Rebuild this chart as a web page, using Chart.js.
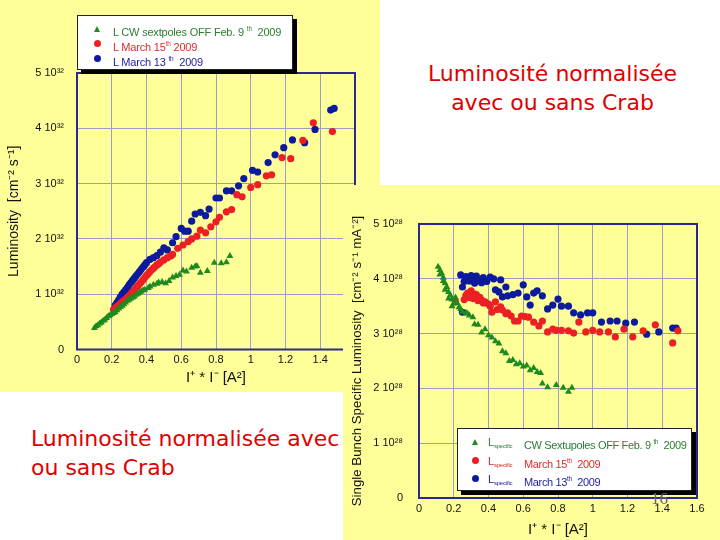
<!DOCTYPE html>
<html><head><meta charset="utf-8">
<script src="https://cdn.jsdelivr.net/npm/chart.js@4.4.1/dist/chart.umd.min.js"></script>
<style>
html,body{margin:0;padding:0;width:720px;height:540px;overflow:hidden;background:#fff;}
#leftPanel{position:absolute;left:0;top:0;width:380px;height:392px;background:#ffff99;z-index:1}
#rightPanel{position:absolute;left:343px;top:185px;width:377px;height:355px;background:#ffff99;z-index:2}
canvas{position:absolute;left:0;top:0}
.note{position:absolute;color:#e00000;font-family:"DejaVu Sans",sans-serif;font-size:22px;line-height:29px;z-index:3;white-space:nowrap}
.legend{position:absolute;background:#fff;border:1px solid #222;box-shadow:4px 4px 0 #000;font-family:"Liberation Sans",Arial,sans-serif;z-index:4}
.row{position:absolute;white-space:nowrap;line-height:14px;height:14px}
.dot{position:absolute;width:7px;height:7px;border-radius:50%}
.tri{position:absolute;width:0;height:0;border-left:3.5px solid transparent;border-right:3.5px solid transparent;border-bottom:6px solid #1f8a1f}
.txt{position:absolute;font-size:11px;letter-spacing:-0.2px}
.txt sup{font-size:6.5px;vertical-align:5px}
.txt sub{font-size:6px;vertical-align:-2px}
.rt{font-size:11px !important;letter-spacing:-0.35px !important}
#pg{position:absolute;left:651px;top:489px;font-family:"Liberation Serif",serif;font-size:17px;color:#666;z-index:5}
</style></head>
<body>
<div id="leftPanel"><canvas id="cL" width="380" height="392"></canvas>
  <div class="legend" style="left:77px;top:15px;width:214px;height:53px;">
    <div class="row" style="top:6px;left:0"><div class="tri" style="left:16px;top:4px"></div><div class="txt" style="left:35px;color:#2b7d33">L CW sextpoles OFF Feb. 9 <sup>th</sup>&nbsp; 2009</div></div>
    <div class="row" style="top:21px;left:0"><div class="dot" style="left:16px;top:3px;background:#ec2024"></div><div class="txt" style="left:35px;color:#e02a2a">L March 15<sup>th</sup> 2009</div></div>
    <div class="row" style="top:36px;left:0"><div class="dot" style="left:16px;top:3px;background:#0c1a9e"></div><div class="txt" style="left:35px;color:#1c1c9c">L March 13 <sup>th</sup>&nbsp; 2009</div></div>
  </div>
</div>
<div id="rightPanel"><canvas id="cR" width="377" height="355"></canvas>
  <div class="legend" style="left:114px;top:243px;width:233px;height:61px;">
    <div class="row" style="top:6px;left:0"><div class="tri" style="left:14px;top:4px"></div><div class="txt" style="left:30px;color:#2b7d33">L<sub>specific</sub></div><div class="txt rt" style="left:66px;color:#2b7d33">CW Sextupoles OFF Feb. 9 <sup>th</sup>&nbsp; 2009</div></div>
    <div class="row" style="top:25px;left:0"><div class="dot" style="left:14px;top:3px;background:#ec2024"></div><div class="txt" style="left:30px;color:#e02a2a">L<sub>specific</sub></div><div class="txt rt" style="left:66px;color:#e02a2a">March 15<sup>th</sup>&nbsp; 2009</div></div>
    <div class="row" style="top:43px;left:0"><div class="dot" style="left:14px;top:3px;background:#0c1a9e"></div><div class="txt" style="left:30px;color:#1c1c9c">L<sub>specific</sub></div><div class="txt rt" style="left:66px;color:#1c1c9c">March 13<sup>th</sup>&nbsp; 2009</div></div>
  </div>
</div>
<div class="note" style="left:380px;top:59px;width:345px;text-align:center">Luminosité normalisée<br>avec ou sans Crab</div>
<div class="note" style="left:31px;top:424px">Luminosité normalisée avec<br>ou sans Crab</div>
<div id="pg">16</div>
<script>
// ---------- data ----------
const seriesLabels = ['L CW sextpoles OFF Feb. 9th 2009', 'L March 15th 2009', 'L March 13th 2009'];
const xTickValues = [0,0.2,0.4,0.6,0.8,1,1.2,1.4,1.6];
const xTickLabels = ['0','0.2','0.4','0.6','0.8','1','1.2','1.4','1.6'];
const yTickValues = [0,1,2,3,4,5];
const leftYTickLabels = ['0','1 10³²','2 10³²','3 10³²','4 10³²','5 10³²'];
const rightYTickLabels = ['0','1 10²⁸','2 10²⁸','3 10²⁸','4 10²⁸','5 10²⁸'];

// Left: Luminosity (units of 1e32)
const greenLx = [0.10,0.11,0.12,0.13,0.14,0.15,0.16,0.17,0.18,0.19,0.20,0.21,0.22,0.23,0.24,0.25,0.26,0.27,0.28,0.29,0.30,0.31,0.32,0.33,0.34,0.35,0.36,0.37,0.38,0.39,0.41,0.42,0.44,0.46,0.47,0.49,0.51,0.53,0.55,0.57,0.59,0.61,0.63,0.66,0.68,0.69,0.71,0.75,0.79,0.83,0.86,0.88];
const greenLy = [0.39,0.42,0.44,0.47,0.49,0.52,0.54,0.57,0.60,0.62,0.64,0.66,0.68,0.71,0.74,0.77,0.79,0.82,0.85,0.88,0.90,0.92,0.94,0.96,0.99,1.01,1.03,1.05,1.07,1.08,1.11,1.14,1.17,1.19,1.21,1.22,1.20,1.24,1.30,1.33,1.35,1.43,1.41,1.48,1.50,1.51,1.39,1.42,1.57,1.56,1.58,1.69];
const redLx = [0.21,0.22,0.23,0.24,0.25,0.26,0.27,0.28,0.29,0.30,0.31,0.32,0.33,0.34,0.35,0.36,0.37,0.38,0.39,0.40,0.41,0.42,0.43,0.44,0.45,0.46,0.47,0.48,0.50,0.52,0.54,0.55,0.58,0.61,0.64,0.66,0.69,0.71,0.74,0.77,0.80,0.82,0.86,0.89,0.92,0.95,1.00,1.04,1.09,1.12,1.18,1.23,1.30,1.36,1.47];
const redLy = [0.72,0.75,0.78,0.80,0.83,0.86,0.88,0.91,0.94,0.97,1.00,1.04,1.08,1.12,1.15,1.19,1.22,1.26,1.30,1.34,1.37,1.41,1.44,1.47,1.50,1.53,1.55,1.58,1.62,1.66,1.69,1.72,1.83,1.89,1.95,2.00,2.05,2.16,2.11,2.22,2.31,2.39,2.49,2.53,2.80,2.76,2.93,2.98,3.14,3.16,3.47,3.45,3.78,4.10,3.94];
const blueLx = [0.22,0.23,0.24,0.25,0.26,0.27,0.28,0.29,0.30,0.31,0.32,0.33,0.34,0.35,0.36,0.37,0.38,0.39,0.40,0.42,0.44,0.46,0.48,0.50,0.52,0.55,0.57,0.60,0.62,0.64,0.66,0.68,0.71,0.74,0.76,0.80,0.82,0.86,0.89,0.93,0.96,1.01,1.04,1.10,1.14,1.19,1.24,1.31,1.37,1.46,1.48];
const blueLy = [0.80,0.85,0.90,0.95,1.00,1.04,1.08,1.12,1.17,1.21,1.25,1.29,1.33,1.37,1.41,1.45,1.49,1.53,1.57,1.63,1.66,1.70,1.76,1.84,1.80,1.93,2.04,2.19,2.14,2.14,2.32,2.45,2.48,2.42,2.54,2.74,2.74,2.87,2.87,2.96,3.09,3.24,3.21,3.38,3.52,3.65,3.79,3.74,3.98,4.33,4.36];

// Right: single bunch specific luminosity (units of 1e28)
const greenRx = [0.11,0.12,0.13,0.14,0.15,0.16,0.17,0.18,0.19,0.20,0.21,0.22,0.23,0.24,0.25,0.27,0.28,0.29,0.31,0.32,0.34,0.36,0.38,0.40,0.42,0.44,0.46,0.48,0.50,0.52,0.54,0.56,0.58,0.60,0.62,0.64,0.66,0.68,0.70,0.71,0.74,0.79,0.83,0.86,0.88,0.12,0.14,0.15,0.17,0.19];
const greenRy = [4.22,4.16,4.10,4.02,3.92,3.85,3.76,3.70,3.62,3.55,3.66,3.56,3.48,3.45,3.40,3.38,3.36,3.33,3.30,3.17,3.16,3.02,3.08,2.97,2.93,2.86,2.82,2.68,2.64,2.50,2.52,2.44,2.46,2.40,2.42,2.33,2.37,2.30,2.28,2.09,2.02,2.06,2.01,1.94,2.01,4.08,3.96,3.80,3.64,3.50];
const redRx = [0.21,0.26,0.27,0.28,0.29,0.30,0.31,0.32,0.33,0.34,0.35,0.36,0.37,0.38,0.40,0.41,0.42,0.44,0.45,0.47,0.48,0.50,0.51,0.53,0.55,0.57,0.59,0.61,0.63,0.66,0.69,0.71,0.74,0.77,0.79,0.82,0.86,0.89,0.92,0.96,1.00,1.04,1.09,1.13,1.18,1.23,1.29,1.36,1.46,1.49];
const redRy = [3.58,3.62,3.70,3.74,3.66,3.78,3.64,3.72,3.71,3.60,3.66,3.61,3.56,3.58,3.54,3.50,3.39,3.58,3.44,3.49,3.43,3.36,3.38,3.32,3.23,3.23,3.32,3.31,3.30,3.21,3.14,3.23,3.03,3.08,3.06,3.06,3.05,3.01,3.21,3.03,3.06,3.03,3.03,2.94,3.08,2.94,3.05,3.16,2.83,3.05];
const blueRx = [0.24,0.25,0.25,0.26,0.27,0.28,0.29,0.30,0.31,0.32,0.33,0.34,0.36,0.37,0.39,0.41,0.43,0.44,0.46,0.47,0.48,0.50,0.51,0.54,0.57,0.60,0.62,0.64,0.66,0.68,0.71,0.74,0.77,0.80,0.82,0.86,0.89,0.93,0.97,1.00,1.05,1.10,1.14,1.19,1.24,1.31,1.38,1.46,1.48];
const blueRy = [4.07,3.85,3.39,3.95,4.04,4.00,3.96,4.06,3.98,3.92,4.05,3.97,3.93,4.02,3.95,4.03,4.00,3.80,3.76,3.98,3.67,3.85,3.69,3.71,3.74,3.89,3.67,3.52,3.74,3.78,3.69,3.45,3.52,3.63,3.50,3.50,3.38,3.34,3.38,3.38,3.21,3.23,3.23,3.19,3.21,2.99,3.03,3.10,3.10];

// ---------- rendering ----------
const GREEN='#1f8a1f', RED='#ec2024', BLUE='#0c1a9e';
const pts = (xs, ys) => xs.map((x,i)=>({x, y: ys[i]}));
const frame = {id:'frame', beforeDatasetsDraw(chart){const {ctx, chartArea:a}=chart; ctx.save(); ctx.strokeStyle='#2a2a8e'; ctx.lineWidth=2; ctx.strokeRect(a.left,a.top,a.right-a.left,a.bottom-a.top); ctx.restore();}};
const tickFont = {family:'"Liberation Sans Narrow","Liberation Sans",Arial,sans-serif', size:11};
const titleFont = {family:'"Liberation Sans",Arial,sans-serif', size:14};

function ds(label, data, color, style){
  return {label, data, backgroundColor: color, borderColor: color, borderWidth:0, pointStyle: style, pointRadius: style==='triangle'?4:3.6};
}
function make(id, datasets, cfg){
  return new Chart(document.getElementById(id), {
    type:'scatter',
    data:{datasets},
    plugins:[frame],
    options:{
      responsive:false, animation:false, devicePixelRatio:1,
      layout:{padding:{left:0, top:cfg.top, right:cfg.right, bottom:0}},
      plugins:{legend:{display:false}, tooltip:{enabled:false}},
      scales:{
        x:{type:'linear', min:0, max:1.6,
           afterFit:s=>{s.height=cfg.xh;},
           afterBuildTicks:s=>{s.ticks=xTickValues.map(v=>({value:v}));},
           ticks:{callback:(v,i)=>xTickLabels[i], font:tickFont, color:'#111', padding:4, maxRotation:0, autoSkip:false},
           grid:{color:'#9c9cc6', lineWidth:1, drawTicks:false},
           border:{display:false},
           title:{display:true, text:'I⁺ * I⁻ [A²]', font:{family:titleFont.family,size:15}, color:'#111', padding:{top:0,bottom:cfg.xtpad}}},
        y:{type:'linear', min:0, max:5,
           afterFit:s=>{s.width=cfg.yw;},
           afterBuildTicks:s=>{s.ticks=yTickValues.map(v=>({value:v}));},
           ticks:{callback:(v,i)=>cfg.ylabels[i], font:tickFont, color:'#111', padding:cfg.ypad, autoSkip:false},
           grid:{color:'#9c9cc6', lineWidth:1, drawTicks:false},
           border:{display:false},
           title:{display:true, text:cfg.ytitle, font:{family:titleFont.family,size:cfg.ytsize}, color:'#111', padding:{top:6,bottom:0}}}
      }
    }
  });
}
make('cL', [
  ds(seriesLabels[0], pts(greenLx, greenLy), GREEN, 'triangle'),
  ds(seriesLabels[1], pts(redLx, redLy), RED, 'circle'),
  ds(seriesLabels[2], pts(blueLx, blueLy), BLUE, 'circle')
], {top:73, right:25, xh:42.5, yw:77, ypad:13, xtpad:5, ytsize:14, ylabels:leftYTickLabels, ytitle:'Luminosity  [cm⁻² s⁻¹]'});
make('cR', [
  ds('Lspecific CW Sextupoles OFF Feb. 9th 2009', pts(greenRx, greenRy), GREEN, 'triangle'),
  ds('Lspecific March 15th 2009', pts(redRx, redRy), RED, 'circle'),
  ds('Lspecific March 13th 2009', pts(blueRx, blueRy), BLUE, 'circle')
], {top:39, right:23, xh:42, yw:76, ypad:16, xtpad:1, ytsize:13.3, ylabels:rightYTickLabels, ytitle:'Single Bunch Specific Luminosity  [cm⁻² s⁻¹ mA⁻²]'});
</script>
</body></html>
